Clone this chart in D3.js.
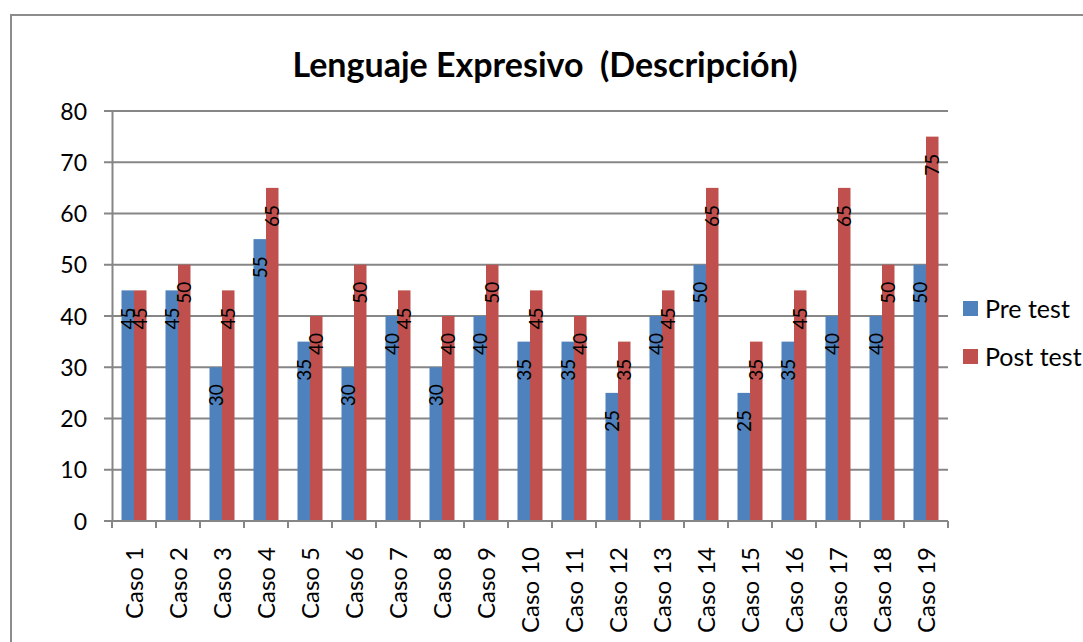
<!DOCTYPE html>
<html>
<head>
<meta charset="utf-8">
<script src="https://cdn.jsdelivr.net/npm/d3@7"></script>
<style>
  body { margin: 0; background: #fff; }
  svg text { font-family: Lato, "Open Sans", sans-serif; fill: #000; }
</style>
</head>
<body>
<div id="chart"></div>
<script>
// Lenguaje Expresivo chart
var casos = ["Caso 1", "Caso 2", "Caso 3", "Caso 4", "Caso 5", "Caso 6", "Caso 7", "Caso 8", "Caso 9", "Caso 10",
   "Caso 11", "Caso 12", "Caso 13", "Caso 14", "Caso 15", "Caso 16", "Caso 17", "Caso 18", "Caso 19"];
var preTest = [45, 45, 30, 55, 35, 30, 40, 30, 40, 35, 35, 25, 40, 50, 25, 35, 40, 40, 50];
var postTest = [45, 50, 45, 65, 40, 50, 45, 40, 50, 45, 40, 35, 45, 65, 35, 45, 65, 50, 75];
var seriesNames = ["Pre test", "Post test"];
var yTicks = [0, 10, 20, 30, 40, 50, 60, 70, 80];

var colors = ["#4F81BD", "#C0504D"];

var svgWidth = 1083;
var svgHeight = 642;

var margin = { top: 111, left: 112, right: 1083 - 948, bottom: 642 - 521 };
var width = svgWidth - margin.left - margin.right;
var height = svgHeight - margin.top - margin.bottom;

var svg = d3.select("#chart")
   .append("svg")
   .attr("width", svgWidth)
   .attr("height", svgHeight);

// outer frame
svg.append("rect")
   .attr("x", 11)
   .attr("y", 15)
   .attr("width", 1200)
   .attr("height", 800)
   .attr("fill", "none")
   .attr("stroke", "#8c8c8c")
   .attr("stroke-width", 2);

// title
svg.append("text")
   .attr("x", 545)
   .attr("y", 77)
   .attr("text-anchor", "middle")
   .style("font-size", "34px")
   .style("font-weight", "bold")
   .style("white-space", "pre")
   .text("Lenguaje Expresivo  (Descripción)");

var chartGroup = svg.append("g")
   .attr("transform", `translate(${margin.left}, ${margin.top})`);

var xScale = d3.scaleBand()
   .domain(casos)
   .range([0, width]);

var xInner = d3.scaleBand()
   .domain(seriesNames)
   .range([0, xScale.bandwidth()])
   .paddingInner(0)
   .paddingOuter(0.76);

var yScale = d3.scaleLinear()
   .domain([0, 80])
   .range([height, 0]);

// gridlines
chartGroup.append("g")
   .selectAll("line")
   .data(yTicks)
   .enter()
   .append("line")
   .attr("x1", -8)
   .attr("x2", width)
   .attr("y1", d => yScale(d))
   .attr("y2", d => yScale(d))
   .attr("stroke", "#868686")
   .attr("stroke-width", 2);

// bars
var data = casos.map((c, i) => ({ caso: c, values: [preTest[i], postTest[i]] }));

var groups = chartGroup.selectAll(".grp")
   .data(data)
   .enter()
   .append("g")
   .attr("class", "grp")
   .attr("transform", d => `translate(${xScale(d.caso)}, 0)`);

groups.selectAll("rect")
   .data(d => d.values.map((v, j) => ({ name: seriesNames[j], value: v, j: j })))
   .enter()
   .append("rect")
   .attr("x", d => xInner(d.name))
   .attr("y", d => yScale(d.value))
   .attr("width", xInner.bandwidth())
   .attr("height", d => height - yScale(d.value))
   .attr("fill", d => colors[d.j]);

// data labels
groups.selectAll(".lbl")
   .data(d => d.values.map((v, j) => ({ name: seriesNames[j], value: v, j: j })))
   .enter()
   .append("text")
   .attr("class", "lbl")
   .attr("transform", d => `translate(${xInner(d.name) + xInner.bandwidth() / 2 + 7}, ${yScale(d.value) + 17}) rotate(-90)`)
   .attr("text-anchor", "end")
   .style("font-size", "19px")
   .text(d => d.value);

// y axis
var leftAxis = d3.axisLeft(yScale).tickValues(yTicks).tickSize(0).tickPadding(25);
var yAxis = chartGroup.append("g").call(leftAxis);
yAxis.select(".domain").attr("stroke", "#868686").attr("stroke-width", 2);
yAxis.selectAll("text").style("font-size", "23px").attr("dy", "0.35em");

// x axis
var xAxisG = chartGroup.append("g").attr("transform", `translate(0, ${height})`);
xAxisG.append("line")
   .attr("x1", 0).attr("x2", width)
   .attr("stroke", "#868686").attr("stroke-width", 2);
xAxisG.selectAll(".tick")
   .data(d3.range(casos.length + 1))
   .enter()
   .append("line")
   .attr("x1", i => i * xScale.step())
   .attr("x2", i => i * xScale.step())
   .attr("y1", 0)
   .attr("y2", 7)
   .attr("stroke", "#868686")
   .attr("stroke-width", 2);
xAxisG.selectAll(".xl")
   .data(casos)
   .enter()
   .append("text")
   .attr("transform", d => `translate(${xScale(d) + xScale.bandwidth() / 2 + 9}, 26) rotate(-90)`)
   .attr("text-anchor", "end")
   .style("font-size", "24px")
   .text(d => d);

// legend
var legend = svg.append("g").attr("transform", "translate(963, 301)");
seriesNames.forEach(function (name, i) {
   legend.append("rect")
      .attr("x", 0)
      .attr("y", i * 48)
      .attr("width", 15)
      .attr("height", 15)
      .attr("fill", colors[i]);
   legend.append("text")
      .attr("x", 22)
      .attr("y", i * 48 + 17)
      .style("font-size", "25px")
      .text(name);
});
</script>
</body>
</html>
